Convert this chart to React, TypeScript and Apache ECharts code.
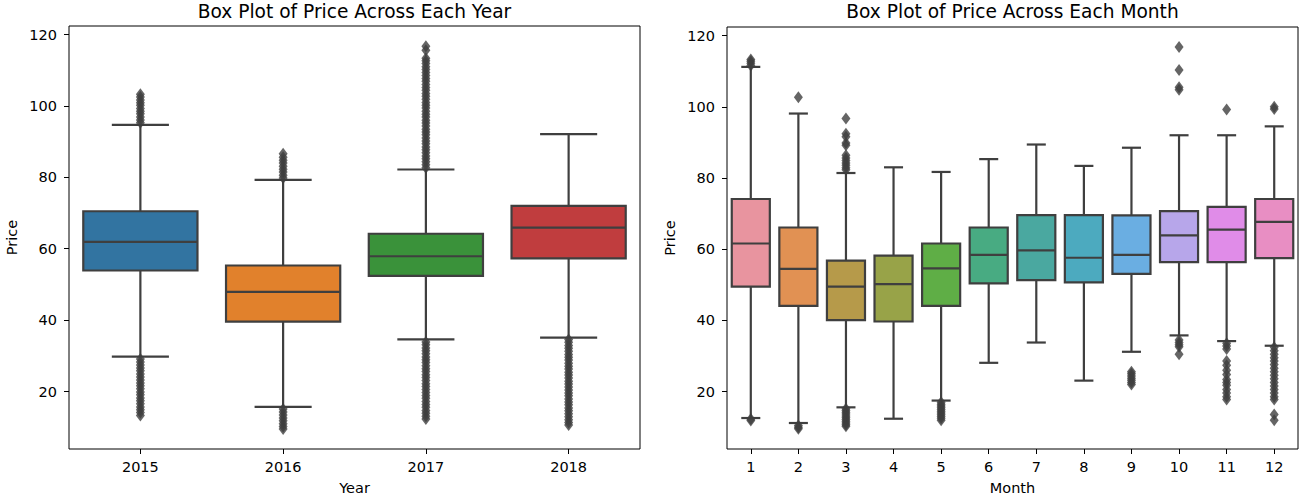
import React, { useEffect, useRef } from "react";
import * as echarts from "echarts";

// ---- Price by year ----
const years = ["2015", "2016", "2017", "2018"];
// [lower whisker, Q1, median, Q3, upper whisker]
const yearStats = [
  [29.8, 53.9, 61.9, 70.5, 94.7],
  [15.7, 39.6, 47.9, 55.3, 79.3],
  [34.6, 52.4, 57.9, 64.2, 82.2],
  [35.1, 57.3, 65.9, 72.0, 92.1],
];
const outliers2015 = [
  95.3, 96.1, 96.9, 97.8, 98.5, 99.3, 100.2, 100.9, 101.7, 102.5, 103.3,
  29.1, 28.3, 27.4, 26.6, 25.8, 24.9, 24.1, 23.2, 22.4, 21.6, 20.8, 19.9, 19.1, 18.2, 17.4, 16.6, 15.7, 14.9, 14.1, 13.3,
];
const outliers2016 = [
  79.8, 80.6, 81.5, 82.3, 83.1, 84.0, 84.8, 85.6, 86.6,
  15.1, 14.3, 13.4, 12.6, 11.8, 11.0, 10.2, 9.5,
];
const outliers2017 = [
  82.7, 83.5, 84.4, 85.2, 86.0, 86.9, 87.7, 88.5, 89.4, 90.2, 91.0, 91.9, 92.7, 93.5, 94.4, 95.2,
  96.0, 96.9, 97.7, 98.5, 99.4, 100.2, 101.0, 101.9, 102.7, 103.5, 104.4, 105.2, 106.0, 106.9,
  107.7, 108.5, 109.4, 110.2, 111.0, 111.9, 112.7, 113.4, 115.6, 116.7,
  33.9, 33.1, 32.2, 31.4, 30.6, 29.7, 28.9, 28.1, 27.2, 26.4, 25.6, 24.7, 23.9, 23.1, 22.2, 21.4,
  20.6, 19.7, 18.9, 18.1, 17.2, 16.4, 15.6, 14.7, 13.9, 13.1, 12.3,
];
const outliers2018 = [
  34.6, 33.8, 32.9, 32.1, 31.3, 30.4, 29.6, 28.8, 27.9, 27.1, 26.3, 25.4, 24.6, 23.8, 22.9, 22.1,
  21.3, 20.4, 19.6, 18.8, 17.9, 17.1, 16.3, 15.4, 14.6, 13.8, 12.9, 12.1, 11.3, 10.6,
];
const yearOutliers = [outliers2015, outliers2016, outliers2017, outliers2018];
const yearColors = ["#3274a1", "#e1812c", "#3a923a", "#c03d3e"];

// ---- Price by month ----
const months = ["1", "2", "3", "4", "5", "6", "7", "8", "9", "10", "11", "12"];
const monthStats = [
  [12.6, 49.5, 61.6, 74.1, 111.2],
  [11.2, 44.1, 54.5, 66.1, 98.1],
  [15.6, 40.1, 49.5, 56.8, 81.4],
  [12.4, 39.7, 50.2, 58.2, 83.0],
  [17.5, 44.1, 54.6, 61.6, 81.7],
  [28.1, 50.4, 58.4, 66.1, 85.3],
  [33.8, 51.3, 59.7, 69.6, 89.4],
  [23.1, 50.7, 57.6, 69.6, 83.4],
  [31.2, 53.1, 58.4, 69.5, 88.5],
  [35.8, 56.4, 63.9, 70.7, 92.0],
  [34.2, 56.4, 65.5, 71.9, 92.0],
  [32.9, 57.5, 67.7, 74.1, 94.5],
];
const outliersJan = [113.3, 112.8, 112.2, 111.6, 12.3, 11.9];
const outliersFeb = [102.7, 10.5, 10.0, 9.6];
const outliersMar = [
  96.7, 92.4, 91.6, 89.8, 89.2, 86.4, 85.6, 84.9, 84.2, 83.6, 82.9, 82.3,
  15.2, 14.7, 14.2, 13.7, 13.2, 12.7, 12.2, 11.7, 11.2, 10.7, 10.3,
];
const outliersApr: number[] = [];
const outliersMay = [17.0, 16.5, 16.0, 15.5, 15.0, 14.5, 14.0, 13.5, 13.0, 12.5, 12.0];
const outliersJun: number[] = [];
const outliersJul: number[] = [];
const outliersAug: number[] = [];
const outliersSep = [25.6, 25.0, 24.4, 23.8, 23.2, 22.6, 22.0];
const outliersOct = [116.8, 110.3, 105.5, 104.8, 34.5, 33.8, 33.2, 32.6, 30.5];
const outliersNov = [
  99.2, 33.6, 32.8, 32.0, 28.6, 27.4, 26.0, 24.8, 23.4, 22.6, 21.8, 20.6, 19.6, 18.6, 17.8,
];
const outliersDec = [
  100.0, 99.4, 32.5, 31.5, 30.5, 29.5, 28.6, 27.6, 26.6, 25.6, 24.6, 23.6, 22.6, 21.6, 20.6,
  19.6, 18.6, 17.8, 13.6, 12.0,
];
const monthOutliers = [
  outliersJan, outliersFeb, outliersMar, outliersApr, outliersMay, outliersJun,
  outliersJul, outliersAug, outliersSep, outliersOct, outliersNov, outliersDec,
];
const monthColors = [
  "#e8949f", "#e19153", "#b69a4a", "#98a348", "#5fae46", "#48ab82",
  "#4aa8a0", "#4caabf", "#6aaee2", "#b7a6ea", "#e08ce8", "#e88ec3",
];

const priceTicks = [20, 40, 60, 80, 100, 120];
const yMin = 3.9;
const yMax = 122.4;

const EDGE = "#3f3f3f";
const FONT = "DejaVu Sans";
const TICK_FONT = 14.5;

function boxRenderer(colors: string[]) {
  return (params: any, api: any) => {
    const idx = api.value(0);
    const lo = api.coord([idx, api.value(1)]);
    const q1 = api.coord([idx, api.value(2)]);
    const med = api.coord([idx, api.value(3)]);
    const q3 = api.coord([idx, api.value(4)]);
    const hi = api.coord([idx, api.value(5)]);
    const band = api.size([1, 0])[0];
    const half = band * 0.4;
    const capHalf = half / 2;
    const cx = q1[0];
    const ls = { stroke: EDGE, lineWidth: 2.2 };
    return {
      type: "group",
      children: [
        { type: "line", shape: { x1: cx, y1: q3[1], x2: cx, y2: hi[1] }, style: ls },
        { type: "line", shape: { x1: cx, y1: q1[1], x2: cx, y2: lo[1] }, style: ls },
        { type: "line", shape: { x1: cx - capHalf, y1: hi[1], x2: cx + capHalf, y2: hi[1] }, style: ls },
        { type: "line", shape: { x1: cx - capHalf, y1: lo[1], x2: cx + capHalf, y2: lo[1] }, style: ls },
        {
          type: "rect",
          shape: { x: cx - half, y: q3[1], width: half * 2, height: q1[1] - q3[1] },
          style: { fill: colors[params.dataIndex], stroke: EDGE, lineWidth: 2.2 },
        },
        { type: "line", shape: { x1: cx - half, y1: med[1], x2: cx + half, y2: med[1] }, style: ls },
      ],
    };
  };
}

function xAxisFor(cats: string[], gridIndex: number, name: string) {
  return {
    type: "category",
    gridIndex,
    data: cats,
    name,
    nameLocation: "middle",
    nameGap: 31,
    nameTextStyle: { color: "#000", fontSize: TICK_FONT, fontFamily: FONT },
    axisLine: { show: false },
    axisTick: { show: true, alignWithLabel: true, length: 5, lineStyle: { color: "#000" } },
    axisLabel: { color: "#000", fontSize: TICK_FONT, fontFamily: FONT, margin: 10 },
    splitLine: { show: false },
  };
}

function yAxisFor(gridIndex: number) {
  return {
    type: "value",
    gridIndex,
    min: yMin,
    max: yMax,
    name: "Price",
    nameLocation: "middle",
    nameRotate: 90,
    nameGap: 50,
    nameTextStyle: { color: "#000", fontSize: TICK_FONT, fontFamily: FONT },
    axisLine: { show: false },
    axisTick: { show: true, length: 5, lineStyle: { color: "#000" }, customValues: priceTicks },
    axisLabel: { color: "#000", fontSize: TICK_FONT, fontFamily: FONT, margin: 12, customValues: priceTicks },
    splitLine: { show: false },
  };
}

export default function App() {
  const ref = useRef<HTMLDivElement>(null);

  useEffect(() => {
    if (!ref.current) return;
    const chart = echarts.init(ref.current, undefined, { renderer: "svg" });

    const yearBoxes = yearStats.map((s, i) => [i, ...s]);
    const monthBoxes = monthStats.map((s, i) => [i, ...s]);
    const yearFliers = yearOutliers.flatMap((vals, i) => vals.map((v) => [i, v]));
    const monthFliers = monthOutliers.flatMap((vals, i) => vals.map((v) => [i, v]));

    const titleStyle = { fill: "#000", fontSize: 18.6, fontFamily: FONT, align: "center", verticalAlign: "middle" };

    chart.setOption({
      animation: false,
      backgroundColor: "#fff",
      grid: [
        { left: 69, top: 26, width: 571, height: 425, show: true, borderColor: "#000", borderWidth: 1, backgroundColor: "transparent" },
        { left: 727, top: 27, width: 571, height: 425, show: true, borderColor: "#000", borderWidth: 1, backgroundColor: "transparent" },
      ],
      xAxis: [xAxisFor(years, 0, "Year"), xAxisFor(months, 1, "Month")],
      yAxis: [yAxisFor(0), yAxisFor(1)],
      graphic: [
        { type: "text", x: 354.5, y: 11, style: { text: "Box Plot of Price Across Each Year", ...titleStyle } },
        { type: "text", x: 1012.5, y: 11, style: { text: "Box Plot of Price Across Each Month", ...titleStyle } },
      ],
      series: [
        {
          type: "custom",
          xAxisIndex: 0,
          yAxisIndex: 0,
          data: yearBoxes,
          encode: { x: 0, y: [1, 2, 3, 4, 5] },
          renderItem: boxRenderer(yearColors),
          z: 2,
        },
        {
          type: "scatter",
          xAxisIndex: 0,
          yAxisIndex: 0,
          data: yearFliers,
          symbol: "diamond",
          symbolSize: [9, 12],
          itemStyle: { color: EDGE },
          z: 3,
        },
        {
          type: "custom",
          xAxisIndex: 1,
          yAxisIndex: 1,
          data: monthBoxes,
          encode: { x: 0, y: [1, 2, 3, 4, 5] },
          renderItem: boxRenderer(monthColors),
          z: 2,
        },
        {
          type: "scatter",
          xAxisIndex: 1,
          yAxisIndex: 1,
          data: monthFliers,
          symbol: "diamond",
          symbolSize: [9, 12],
          itemStyle: { color: EDGE },
          z: 3,
        },
      ],
    });

    return () => chart.dispose();
  }, []);

  return (
    <div
      ref={ref}
      style={{ position: "fixed", left: 0, top: 0, width: 1302, height: 500, background: "#fff" }}
    />
  );
}
